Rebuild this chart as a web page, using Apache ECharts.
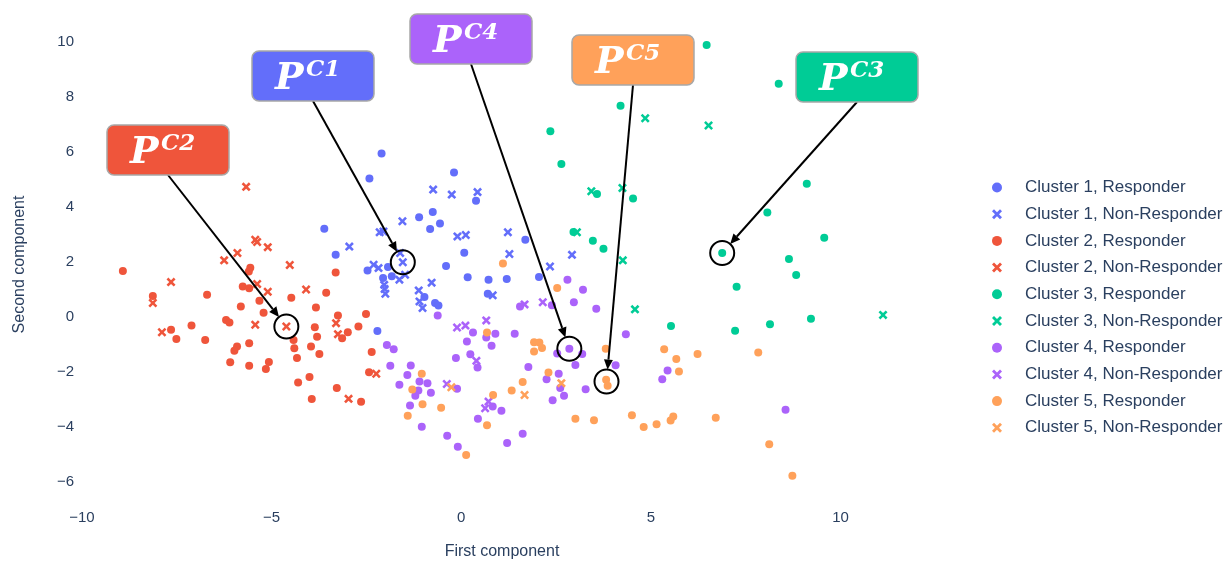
<!DOCTYPE html>
<html>
<head>
<meta charset="utf-8">
<script src="https://cdn.jsdelivr.net/npm/echarts@6/dist/echarts.min.js"></script>
<style>
  html, body { margin: 0; padding: 0; background: #fff; }
  #main { width: 1231px; height: 561px; }
</style>
</head>
<body>
<div id="main"></div>
<script>
// values: [first component, second component]
const c1Responder = [
  [-2.10, 5.93], [-2.42, 5.02], [-0.19, 5.24], [0.39, 4.22], [-0.75, 3.81], [-1.11, 3.62],
  [-0.56, 3.39], [-0.82, 3.19], [-3.61, 3.20], [-3.31, 2.25], [0.08, 2.33], [-2.47, 1.68],
  [-1.93, 1.81], [-1.83, 1.47], [-2.06, 1.41], [-0.40, 1.85], [0.17, 1.44], [0.72, 1.35],
  [0.70, 0.84], [-0.97, 0.72], [-0.69, 0.50], [-0.60, 0.41], [-2.21, -0.52], [1.69, 2.80],
  [1.20, 1.37], [2.05, 1.45]
];
const c1NonResponder = [
  [-0.74, 4.62], [-0.25, 4.44], [0.43, 4.53], [-1.55, 3.47], [-2.15, 3.07], [-2.05, 3.10],
  [-0.10, 2.92], [0.12, 2.97], [-2.95, 2.55], [-1.61, 2.32], [-1.54, 1.98], [-2.31, 1.89],
  [-2.18, 1.77], [-1.63, 1.35], [-1.48, 1.53], [-2.03, 1.16], [-2.02, 1.01], [-2.00, 0.84],
  [-0.78, 1.24], [-1.12, 0.96], [-1.10, 0.56], [-1.02, 0.32], [1.23, 3.07], [1.27, 2.28],
  [2.92, 2.25], [2.34, 1.83], [0.83, 0.78]
];
const c2Responder = [
  [-8.92, 1.66], [-5.56, 1.78], [-5.60, 1.65], [-5.76, 1.10], [-5.59, 1.04], [-4.48, 0.69],
  [-6.70, 0.80], [-8.13, 0.76], [-5.81, 0.37], [-5.32, 0.58], [-5.21, 0.15], [-6.20, -0.12],
  [-6.11, -0.21], [-7.11, -0.32], [-7.65, -0.47], [-7.51, -0.81], [-6.75, -0.84], [-5.91, -1.08],
  [-5.98, -1.23], [-5.59, -0.96], [-6.09, -1.65], [-5.59, -1.78], [-5.07, -1.64], [-5.15, -1.90],
  [-4.42, -0.84], [-4.40, -1.14], [-4.33, -1.50], [-4.30, -2.39], [-3.31, 1.61], [-3.56, 0.87],
  [-3.83, 0.34], [-2.51, 0.10], [-3.25, 0.05], [-2.71, -0.35], [-3.86, -0.38], [-2.99, -0.56],
  [-3.14, -0.78], [-3.80, -0.72], [-3.96, -1.08], [-3.74, -1.35], [-4.00, -2.19], [-3.28, -2.59],
  [-3.94, -2.99], [-2.64, -3.09], [-2.36, -1.28], [-2.43, -2.01]
];
const c2NonResponder = [
  [-5.67, 4.72], [-5.43, 2.80], [-5.38, 2.72], [-5.10, 2.53], [-5.90, 2.32], [-6.25, 2.05],
  [-4.52, 1.88], [-7.65, 1.26], [-5.38, 1.19], [-5.10, 0.91], [-8.13, 0.50], [-5.43, -0.29],
  [-4.61, -0.35], [-7.89, -0.56], [-4.09, 0.99], [-3.30, -0.23], [-3.25, -0.63], [-2.97, -2.98],
  [-2.24, -2.07]
];
const c3Responder = [
  [2.64, 5.55], [3.58, 4.46], [4.53, 4.30], [2.96, 3.08], [3.47, 2.76], [3.75, 2.47],
  [5.53, -0.33], [6.47, 9.87], [8.37, 8.47], [9.11, 4.83], [8.07, 3.79], [2.35, 6.74],
  [4.20, 7.67], [6.88, 2.32], [9.57, 2.87], [8.64, 2.10], [8.83, 1.52], [7.26, 1.09],
  [7.22, -0.51], [8.14, -0.27], [9.22, -0.07]
];
const c3NonResponder = [
  [3.43, 4.56], [4.25, 4.68], [3.05, 3.07], [4.26, 2.05], [4.58, 0.27], [6.52, 6.95],
  [4.85, 7.21], [11.12, 0.07]
];
const c4Responder = [
  [-0.62, 0.05], [0.31, -0.57], [-1.96, -1.02], [-1.78, -1.18], [-1.87, -1.78], [-1.33, -1.77],
  [-1.42, -2.11], [-1.63, -2.47], [-1.10, -2.35], [-0.89, -2.41], [-1.13, -2.68], [-1.21, -2.87],
  [-0.80, -2.76], [-1.35, -3.22], [-1.04, -3.99], [-0.37, -4.32], [-0.09, -4.72], [-0.11, -2.61],
  [-0.14, -1.50], [0.15, -0.90], [0.24, -1.36], [0.43, -1.84], [0.66, -0.75], [0.44, -3.70],
  [2.80, 1.35], [3.21, 0.98], [2.97, 0.53], [2.39, 0.42], [1.55, 0.37], [3.56, 0.29],
  [0.90, -0.62], [1.41, -0.62], [4.34, -0.63], [0.80, -1.05], [2.53, -1.33], [2.85, -1.16],
  [3.19, -1.35], [1.77, -1.82], [3.01, -1.75], [4.07, -1.76], [2.57, -2.07], [2.25, -2.27],
  [2.61, -2.59], [2.71, -2.87], [3.28, -2.63], [2.41, -3.03], [0.83, -3.26], [1.06, -3.41],
  [1.62, -4.25], [1.21, -4.58], [5.44, -1.95], [5.30, -2.27], [8.55, -3.38]
];
const c4NonResponder = [
  [-0.11, -0.39], [0.11, -0.32], [0.66, -0.13], [-0.38, -2.44], [0.40, -1.60], [0.63, -3.32],
  [0.72, -3.08], [2.15, 0.53], [1.67, 0.45]
];
const c5Responder = [
  [0.68, -0.57], [-1.04, -2.07], [-1.29, -2.64], [-1.02, -3.18], [-1.41, -3.59], [-0.53, -3.30],
  [0.13, -5.02], [0.68, -3.94], [1.10, 1.94], [2.53, 1.05], [1.92, -0.92], [2.06, -0.93],
  [2.13, -1.13], [1.92, -1.26], [3.81, -1.16], [3.82, -2.29], [3.86, -2.50], [2.30, -2.02],
  [1.62, -2.37], [1.33, -2.68], [0.84, -2.84], [3.01, -3.70], [3.50, -3.76], [4.50, -3.58],
  [4.81, -4.00], [5.15, -3.90], [5.52, -3.77], [5.59, -3.62], [5.35, -1.18], [5.67, -1.53],
  [5.74, -1.99], [6.23, -1.35], [7.83, -1.30], [6.71, -3.67], [8.12, -4.63], [8.73, -5.77]
];
const c5NonResponder = [
  [-0.26, -2.56], [2.64, -2.41], [1.67, -2.84]
];

const xTicks = [-10, -5, 0, 5, 10];
const yTicks = [-6, -4, -2, 0, 2, 4, 6, 8, 10];

const clusterColors = ["#636efa", "#EF553B", "#00cc96", "#ab63fa", "#FFA15A"];
const xSymbol = "path://M2,0 L5,3 L8,0 L10,2 L7,5 L10,8 L8,10 L5,7 L2,10 L0,8 L3,5 L0,2 Z";

const seriesDefs = [
  ["Cluster 1, Responder", c1Responder, 0, "circle"],
  ["Cluster 1, Non-Responder", c1NonResponder, 0, xSymbol],
  ["Cluster 2, Responder", c2Responder, 1, "circle"],
  ["Cluster 2, Non-Responder", c2NonResponder, 1, xSymbol],
  ["Cluster 3, Responder", c3Responder, 2, "circle"],
  ["Cluster 3, Non-Responder", c3NonResponder, 2, xSymbol],
  ["Cluster 4, Responder", c4Responder, 3, "circle"],
  ["Cluster 4, Non-Responder", c4NonResponder, 3, xSymbol],
  ["Cluster 5, Responder", c5Responder, 4, "circle"],
  ["Cluster 5, Non-Responder", c5NonResponder, 4, xSymbol]
];

// highlighted prototypes: label, cluster colour index, point, box top-left (px)
const callouts = [
  { sup: "C2", color: 1, target: [-4.61, -0.35], box: [107, 125] },
  { sup: "C1", color: 0, target: [-1.54, 1.98], box: [252, 51] },
  { sup: "C4", color: 3, target: [2.85, -1.16], box: [410, 14] },
  { sup: "C5", color: 4, target: [3.83, -2.35], box: [572, 35] },
  { sup: "C3", color: 2, target: [6.88, 2.32], box: [796, 52] }
];

const textColor = "#2a3f5f";
const minus = v => String(v).replace("-", "\u2212");

let chart = echarts.init(document.getElementById("main"));
let option = {
  animation: false,
  backgroundColor: "#fff",
  textStyle: { fontFamily: "Liberation Sans" },
  grid: { left: 80, right: 307, top: 25, bottom: 57, outerBoundsMode: "none" },
  legend: {
    orient: "vertical",
    left: 987,
    top: 174,
    itemWidth: 10,
    itemHeight: 10,
    itemGap: 9.7,
    textStyle: {
      color: textColor,
      fontSize: 17,
      fontFamily: "Liberation Sans",
      padding: [0, 0, 0, 18]
    },
    data: seriesDefs.map(d => d[0])
  },
  xAxis: {
    type: "value",
    min: -10.05,
    max: 12.2,
    name: "First component",
    nameLocation: "middle",
    nameGap: 40,
    nameTextStyle: { color: textColor, fontSize: 16 },
    axisLine: { show: false },
    axisTick: { show: false },
    splitLine: { show: false },
    axisLabel: {
      customValues: xTicks,
      color: textColor,
      fontSize: 15,
      margin: 6,
      formatter: minus
    }
  },
  yAxis: {
    type: "value",
    min: -6.8,
    max: 10.6,
    name: "Second component",
    nameLocation: "middle",
    nameGap: 52,
    nameTextStyle: { color: textColor, fontSize: 16 },
    axisLine: { show: false },
    axisTick: { show: false },
    splitLine: { show: false },
    axisLabel: {
      customValues: yTicks,
      color: textColor,
      fontSize: 15,
      margin: 6,
      formatter: minus
    }
  },
  series: seriesDefs.map(d => ({
    name: d[0],
    type: "scatter",
    data: d[1],
    symbol: d[3],
    symbolSize: d[3] === "circle" ? 8 : 9,
    symbolKeepAspect: true,
    itemStyle: { color: clusterColors[d[2]], opacity: 1 }
  }))
};
chart.setOption(option);

// call-out boxes with arrows and rings round the chosen points
let graphics = [];
const ringR = 12, boxW = 122, boxH = 50;
callouts.forEach(function(c) {
  const p = chart.convertToPixel({ gridIndex: 0 }, c.target);
  const cx = p[0], cy = p[1];
  const sx = c.box[0] + boxW / 2, sy = c.box[1] + boxH;
  const dx = cx - sx, dy = cy - sy;
  const len = Math.sqrt(dx * dx + dy * dy);
  const ux = dx / len, uy = dy / len;
  const ex = cx - ux * ringR, ey = cy - uy * ringR;
  const headL = 10, headW = 4.5;
  const hx = ex - ux * headL, hy = ey - uy * headL;
  graphics.push({
    type: "line", z: 100,
    shape: { x1: sx, y1: sy, x2: hx, y2: hy },
    style: { stroke: "#000", lineWidth: 2 }
  });
  graphics.push({
    type: "polygon", z: 100,
    shape: { points: [[ex, ey], [hx - uy * headW, hy + ux * headW], [hx + uy * headW, hy - ux * headW]] },
    style: { fill: "#000" }
  });
  graphics.push({
    type: "circle", z: 100,
    shape: { cx: cx, cy: cy, r: ringR },
    style: { fill: "none", stroke: "#000", lineWidth: 2 }
  });
  graphics.push({
    type: "rect", z: 101,
    shape: { x: c.box[0], y: c.box[1], width: boxW, height: boxH, r: 7 },
    style: { fill: clusterColors[c.color], stroke: "#a8a8a8", lineWidth: 1.5 }
  });
  graphics.push({
    type: "text", z: 102,
    x: c.box[0] + 23, y: c.box[1] + 28,
    style: {
      text: "P", fill: "#fff", align: "left", verticalAlign: "middle",
      font: 'italic bold 38px "DejaVu Serif"'
    }
  });
  graphics.push({
    type: "text", z: 102,
    x: c.box[0] + 54, y: c.box[1] + 19,
    style: {
      text: c.sup, fill: "#fff", align: "left", verticalAlign: "middle",
      font: 'italic bold 23px "DejaVu Serif"'
    }
  });
});
chart.setOption({ graphic: graphics });
</script>
</body>
</html>
